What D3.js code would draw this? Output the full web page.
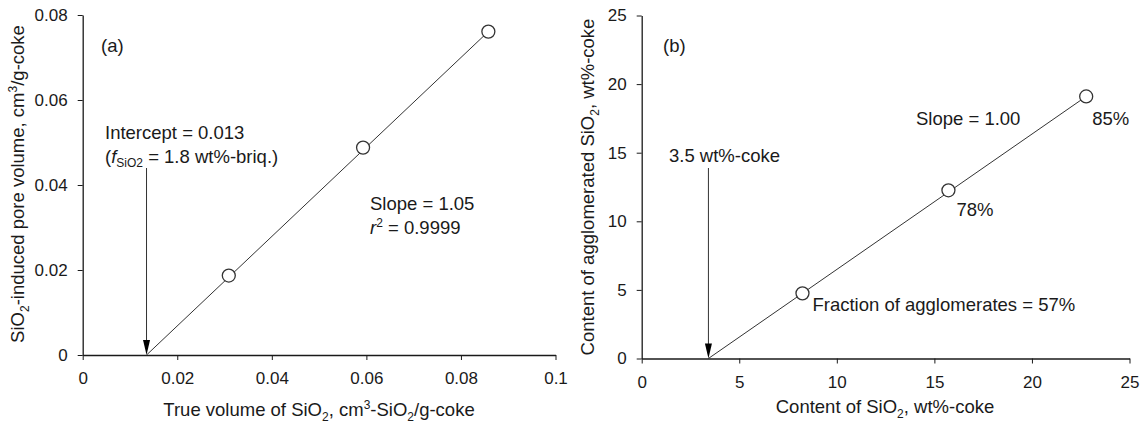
<!DOCTYPE html>
<html>
<head>
<meta charset="utf-8">
<script src="https://cdn.jsdelivr.net/npm/d3@7"></script>
<style>
  body { margin: 0; background: #fff; }
  svg { font-family: "Liberation Sans", Arial, sans-serif; fill: #1a1a1a; }
  .tick text { font-size: 17px; fill: #1a1a1a; }
  .tick line, .domain { stroke: #1a1a1a; }
  .lbl { font-size: 18.5px; }
</style>
</head>
<body>
<svg id="chart" width="1145" height="427"></svg>
<script>
// panel (a): pore volume vs true volume of SiO2
var aX = [0.0309, 0.0593, 0.0858];
var aY = [0.0187, 0.0488, 0.0761];
var aFitX = [0.0135, 0.0858];
var aFitY = [0, 0.0761];
var aIntercept = 0.0135;
var aXTicks = [0, 0.02, 0.04, 0.06, 0.08, 0.1];
var aYTicks = [0, 0.02, 0.04, 0.06, 0.08];

// panel (b): agglomerated SiO2 vs SiO2 content
var bX = [8.24, 15.72, 22.78];
var bY = [4.75, 12.26, 19.1];
var bFitX = [3.42, 22.78];
var bFitY = [0, 19.1];
var bIntercept = 3.42;
var bPct = ["Fraction of agglomerates = 57%", "78%", "85%"];
var bTicks = [0, 5, 10, 15, 20, 25];

var svg = d3.select("#chart");

function fmt(d){ return d === 0 ? "0" : String(+d.toFixed(2)); }

function panel(o){
  var g = svg.append("g");
  var x = d3.scaleLinear().domain(o.xd).range(o.xr);
  var y = d3.scaleLinear().domain(o.yd).range(o.yr);

  g.append("g").attr("transform", "translate(0," + o.yr[0] + ")")
    .call(d3.axisBottom(x).tickValues(o.xt).tickFormat(o.f).tickSizeOuter(0).tickSizeInner(5).tickPadding(12));
  g.append("g").attr("transform", "translate(" + o.xr[0] + ",0)")
    .call(d3.axisLeft(y).tickValues(o.yt).tickFormat(o.f).tickSizeOuter(0).tickSizeInner(5).tickPadding(10));
  g.selectAll(".domain").attr("stroke-width", 1.3);

  // fit line
  var pts = o.fx.map(function(v, i){ return [x(v), y(o.fy[i])]; });
  g.append("path").attr("d", d3.line()(pts)).attr("fill", "none")
    .attr("stroke", "#333").attr("stroke-width", 1);

  // arrow to intercept
  var ax = x(o.ic), ay = y(0);
  g.append("line").attr("x1", ax).attr("x2", ax).attr("y1", o.arrowTop).attr("y2", ay - 14)
    .attr("stroke", "#333").attr("stroke-width", 1);
  g.append("path").attr("d", "M" + (ax - 3.5) + "," + (ay - 15) + "L" + (ax + 3.5) + "," + (ay - 15) + "L" + ax + "," + ay + "Z")
    .attr("fill", "#000");

  g.selectAll("circle.pt").data(o.px).enter().append("circle")
    .attr("class", "pt")
    .attr("cx", function(d){ return x(d); })
    .attr("cy", function(d, i){ return y(o.py[i]); })
    .attr("r", 6.5).attr("fill", "#fff").attr("stroke", "#333").attr("stroke-width", 1.3);

  return {g: g, x: x, y: y};
}

var A = panel({xd: [0, 0.1], xr: [82.7, 555.5], yd: [0, 0.08], yr: [355, 15],
  xt: aXTicks, yt: aYTicks, f: fmt, fx: aFitX, fy: aFitY, ic: aIntercept,
  px: aX, py: aY, arrowTop: 168});

var B = panel({xd: [0, 25], xr: [641.7, 1129.5], yd: [0, 25], yr: [358.5, 15.5],
  xt: bTicks, yt: bTicks, f: d3.format("d"), fx: bFitX, fy: bFitY, ic: bIntercept,
  px: bX, py: bY, arrowTop: 168});

function txt(g, x, y){ return g.append("text").attr("class", "lbl").attr("x", x).attr("y", y); }

// axis titles
var t = txt(A.g, 319, 416).attr("text-anchor", "middle");
t.append("tspan").text("True volume of SiO");
t.append("tspan").attr("font-size", "12px").attr("dy", 5).text("2");
t.append("tspan").attr("dy", -5).text(", cm");
t.append("tspan").attr("font-size", "12px").attr("dy", -7).text("3");
t.append("tspan").attr("dy", 7).text("-SiO");
t.append("tspan").attr("font-size", "12px").attr("dy", 5).text("2");
t.append("tspan").attr("dy", -5).text("/g-coke");

t = A.g.append("text").attr("class", "lbl").attr("text-anchor", "middle")
  .attr("transform", "translate(24,184) rotate(-90)");
t.append("tspan").text("SiO");
t.append("tspan").attr("font-size", "12px").attr("dy", 5).text("2");
t.append("tspan").attr("dy", -5).text("-induced pore volume, cm");
t.append("tspan").attr("font-size", "12px").attr("dy", -7).text("3");
t.append("tspan").attr("dy", 7).text("/g-coke");

t = txt(B.g, 885, 413).attr("text-anchor", "middle");
t.append("tspan").text("Content of SiO");
t.append("tspan").attr("font-size", "12px").attr("dy", 5).text("2");
t.append("tspan").attr("dy", -5).text(", wt%-coke");

t = B.g.append("text").attr("class", "lbl").attr("text-anchor", "middle")
  .attr("transform", "translate(594,187) rotate(-90)");
t.append("tspan").text("Content of agglomerated SiO");
t.append("tspan").attr("font-size", "12px").attr("dy", 5).text("2");
t.append("tspan").attr("dy", -5).text(", wt%-coke");

// annotations (a)
txt(A.g, 101, 52).text("(a)");
txt(A.g, 105, 139).text("Intercept = 0.013");
t = txt(A.g, 105, 163);
t.append("tspan").text("(");
t.append("tspan").attr("font-style", "italic").text("f");
t.append("tspan").attr("font-size", "12px").attr("dy", 4).text("SiO2");
t.append("tspan").attr("dy", -4).text(" = 1.8 wt%-briq.)");
txt(A.g, 370, 210).text("Slope = 1.05");
t = txt(A.g, 370, 234);
t.append("tspan").attr("font-style", "italic").text("r");
t.append("tspan").attr("font-size", "12px").attr("dy", -7).text("2");
t.append("tspan").attr("dy", 7).text(" = 0.9999");

// annotations (b)
txt(B.g, 663, 52).text("(b)");
txt(B.g, 669, 162).text("3.5 wt%-coke");
txt(B.g, 916, 125).text("Slope = 1.00");
var off = [[10, 18], [8, 26], [6, 29]];
B.g.selectAll("text.pct").data(bPct).enter().append("text")
  .attr("class", "lbl pct")
  .attr("x", function(d, i){ return B.x(bX[i]) + off[i][0]; })
  .attr("y", function(d, i){ return B.y(bY[i]) + off[i][1]; })
  .text(function(d){ return d; });
</script>
</body>
</html>
